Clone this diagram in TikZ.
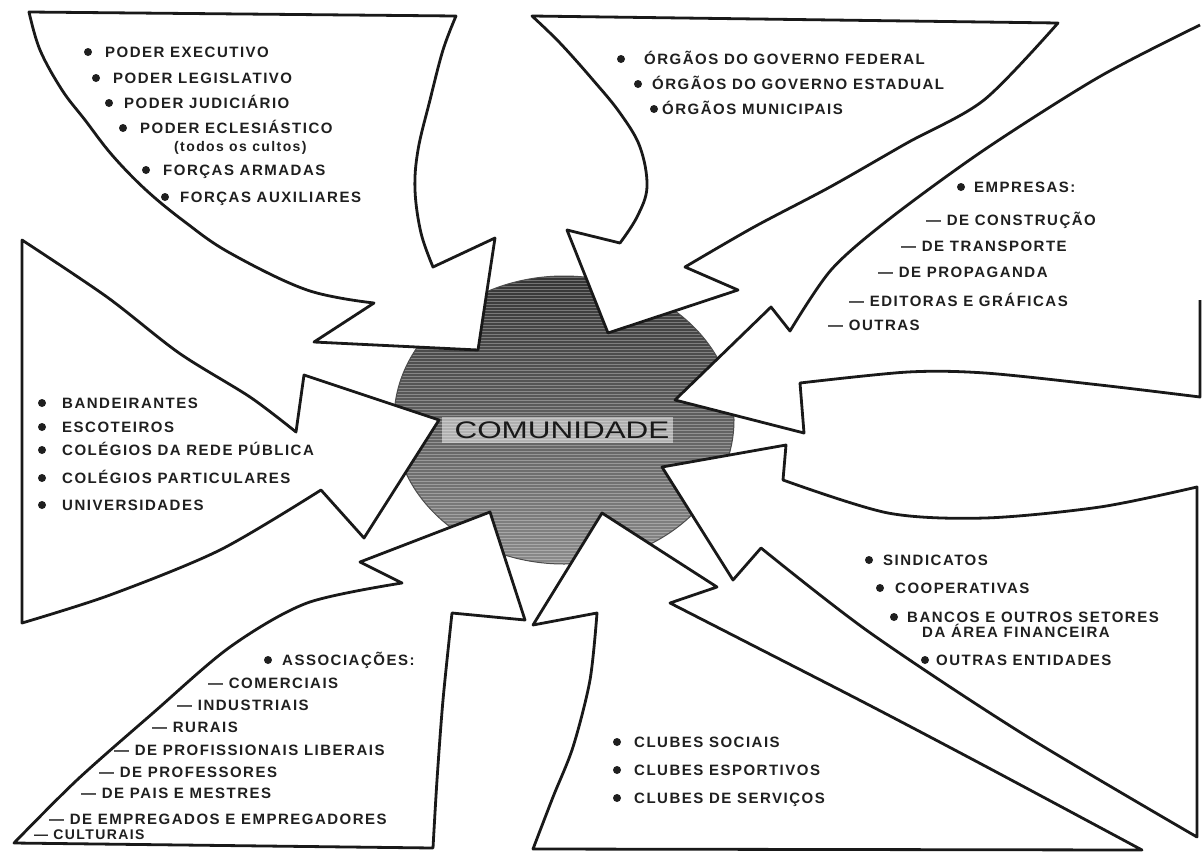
\documentclass[tikz,border=0pt]{standalone}
\usepackage{fontspec}
\setmainfont{Liberation Sans}
\newfontfamily\lblfont{Liberation Sans}[LetterSpace=10]
\usepackage{graphicx}
\begin{document}
\begin{tikzpicture}[x=1pt,y=-1pt,
  box/.style={fill=white, draw=black!90, line width=2.8pt, line join=round},
  edge/.style={draw=black!90, line width=2.8pt, line join=round},
  lab/.style={anchor=base west, inner sep=0pt, text=black!88,
    font=\lblfont\bfseries\fontsize{15}{17}\selectfont},
  small/.style={anchor=base west, inner sep=0pt, text=black!88,
    font=\lblfont\bfseries\fontsize{14}{16}\selectfont},
  bul/.style={fill=black!88}]
\useasboundingbox (0,0) rectangle (1202,860);
\fill[white] (0,0) rectangle (1202,860);

% ---------- central flower ----------
\begin{scope}
  \clip (564,420) ellipse [x radius=170, y radius=144];
  \shade[top color=black!80, bottom color=black!45] (380,270) rectangle (750,570);
  \foreach \k in {0,...,100}
    \draw[white, opacity=0.3, line width=0.9pt] (380,271+3*\k) -- (750,271+3*\k);
\end{scope}
\draw[black!70, line width=1pt] (564,420) ellipse [x radius=170, y radius=144];

% ---------- A : poderes ----------
\path[box] (29,12) -- (456,16)
  -- plot[smooth, tension=0.6] coordinates {(456,16) (443,50) (430,100) (418,150) (415,190) (421,233) (433,267)}
  -- (495,238) -- (478,350) -- (314,342) -- (374,303)
  -- plot[smooth, tension=0.6] coordinates {(374,303) (307,290) (230,253) (185,222) (146,190) (112,155) (85,120) (62,90) (40,50) (29,12)}
  -- cycle;

% ---------- B : orgaos ----------
\path[box] (532,16) -- (1058,23)
  -- plot[smooth, tension=0.5] coordinates {(1058,23) (984,100) (907,143) (830,187) (754,227) (685,267)}
  -- (738,290) -- (608,333) -- (567,230) -- (620,243)
  -- plot[smooth, tension=0.6] coordinates {(620,243) (637,217) (647,187) (640,147) (620,113) (593,80) (560,43) (532,16)}
  -- cycle;

% ---------- C : empresas ----------
\fill[white] (1200,25)
  -- plot[smooth, tension=0.5] coordinates {(1200,25) (1099,77) (984,150) (888,220) (831,270) (790,331)}
  -- (771,307) -- (675,400) -- (804,433) -- (800,383)
  -- plot[smooth, tension=0.5] coordinates {(800,383) (908,372) (985,373) (1100,385) (1200,397)}
  -- cycle;
\path[edge] (1200,25)
  -- plot[smooth, tension=0.5] coordinates {(1200,25) (1099,77) (984,150) (888,220) (831,270) (790,331)}
  -- (771,307) -- (675,400) -- (804,433) -- (800,383)
  -- plot[smooth, tension=0.5] coordinates {(800,383) (908,372) (985,373) (1100,385) (1200,397)}
  -- (1200,300);

% ---------- S : sindicatos ----------
\path[box] (1197,487)
  -- plot[smooth, tension=0.5] coordinates {(1197,487) (1100,507) (985,518) (888,513) (783,480)}
  -- (786,445) -- (662,467) -- (733,580) -- (761,548)
  -- plot[smooth, tension=0.5] coordinates {(761,548) (869,632) (1023,734) (1197,837)}
  -- cycle;

% ---------- K : clubes ----------
\path[box] (533,849)
  -- plot[smooth, tension=0.5] coordinates {(533,849) (553,797) (573,747) (590,680) (597,613)}
  -- (533,625) -- (602,513) -- (717,587) -- (670,603)
  -- plot[smooth, tension=0.5] coordinates {(670,603) (754,646) (869,705) (985,766) (1142,850)}
  -- cycle;

% ---------- D : associacoes ----------
\path[box] (14,843)
  -- plot[smooth, tension=0.5] coordinates {(14,843) (77,780) (153,713) (230,647) (307,603) (402,583)}
  -- (360,562) -- (490,512) -- (525,620) -- (452,613)
  -- plot[smooth, tension=0.5] coordinates {(452,613) (443,700) (437,780) (433,848)}
  -- cycle;

% ---------- L : escolas ----------
\path[box] (22,240)
  -- plot[smooth, tension=0.5] coordinates {(22,240) (107,297) (179,353) (250,397) (296,432)}
  -- (304,375) -- (439,420) -- (364,538) -- (321,490)
  -- plot[smooth, tension=0.5] coordinates {(321,490) (220,550) (110,595) (22,623)}
  -- cycle;

% ---------- COMUNIDADE ----------
\fill[white, opacity=0.5] (442,417) rectangle (673,443);
\node[inner sep=0pt, text=black!90, font=\fontsize{24}{24}\selectfont] (com) at (562,430) {\scalebox{1.31}[1]{COMUNIDADE}};

% ---------- texts A ----------
\fill[bul] (88,52) circle (4);   \node[lab] (a1) at (105,57) {PODER EXECUTIVO};
\fill[bul] (96,78) circle (4);   \node[lab] (a2) at (113,83) {PODER LEGISLATIVO};
\fill[bul] (109,103) circle (4); \node[lab] (a3) at (124,108) {PODER JUDICIÁRIO};
\fill[bul] (123,128) circle (4); \node[lab] (a4) at (140,133) {PODER ECLESIÁSTICO};
\node[small] (a5) at (174,151) {(todos os cultos)};
\fill[bul] (146,170) circle (4); \node[lab] (a6) at (163,175) {FORÇAS ARMADAS};
\fill[bul] (165,197) circle (4); \node[lab] (a7) at (180,202) {FORÇAS AUXILIARES};

% ---------- texts B ----------
\fill[bul] (621,59) circle (4);  \node[lab] (b1) at (644,64) {ÓRGÃOS DO GOVERNO FEDERAL};
\fill[bul] (638,84) circle (4);  \node[lab] (b2) at (652,89) {ÓRGÃOS DO GOVERNO ESTADUAL};
\fill[bul] (654,109) circle (4); \node[lab] (b3) at (662,114) {ÓRGÃOS MUNICIPAIS};

% ---------- texts C ----------
\fill[bul] (961,187) circle (4); \node[lab] (c1) at (974,192) {EMPRESAS:};
\node[lab] (c2) at (926,225) {— DE CONSTRUÇÃO};
\node[lab] (c3) at (901,251) {— DE TRANSPORTE};
\node[lab] (c4) at (878,277) {— DE PROPAGANDA};
\node[lab] (c5) at (849,306) {— EDITORAS E GRÁFICAS};
\node[lab] (c6) at (828,330) {— OUTRAS};

% ---------- texts L ----------
\fill[bul] (42,403) circle (4); \node[lab] (l1) at (62,408) {BANDEIRANTES};
\fill[bul] (42,427) circle (4); \node[lab] (l2) at (62,432) {ESCOTEIROS};
\fill[bul] (42,450) circle (4); \node[lab] (l3) at (62,455) {COLÉGIOS DA REDE PÚBLICA};
\fill[bul] (42,478) circle (4); \node[lab] (l4) at (62,483) {COLÉGIOS PARTICULARES};
\fill[bul] (42,505) circle (4); \node[lab] (l5) at (62,510) {UNIVERSIDADES};

% ---------- texts D ----------
\fill[bul] (268,660) circle (4); \node[lab] (d1) at (282,665) {ASSOCIAÇÕES:};
\node[lab] (d2) at (208,688) {— COMERCIAIS};
\node[lab] (d3) at (177,710) {— INDUSTRIAIS};
\node[lab] (d4) at (152,732) {— RURAIS};
\node[lab] (d5) at (114,755) {— DE PROFISSIONAIS LIBERAIS};
\node[lab] (d6) at (99,777) {— DE PROFESSORES};
\node[lab] (d7) at (81,798) {— DE PAIS E MESTRES};
\node[lab] (d8) at (49,824) {— DE EMPREGADOS E EMPREGADORES};
\node[small] (d9) at (34,839) {— CULTURAIS};

% ---------- texts K ----------
\fill[bul] (617,742) circle (4); \node[lab] (k1) at (634,747) {CLUBES SOCIAIS};
\fill[bul] (617,770) circle (4); \node[lab] (k2) at (634,775) {CLUBES ESPORTIVOS};
\fill[bul] (617,798) circle (4); \node[lab] (k3) at (634,803) {CLUBES DE SERVIÇOS};

% ---------- texts S ----------
\fill[bul] (869,560) circle (4); \node[lab] (s1) at (883,565) {SINDICATOS};
\fill[bul] (880,588) circle (4); \node[lab] (s2) at (895,593) {COOPERATIVAS};
\fill[bul] (894,617) circle (4); \node[lab] (s3) at (907,622) {BANCOS E OUTROS SETORES};
\node[lab] (s4) at (922,637) {DA ÁREA FINANCEIRA};
\fill[bul] (925,660) circle (4); \node[lab] (s5) at (936,665) {OUTRAS ENTIDADES};
\end{tikzpicture}
\end{document}
